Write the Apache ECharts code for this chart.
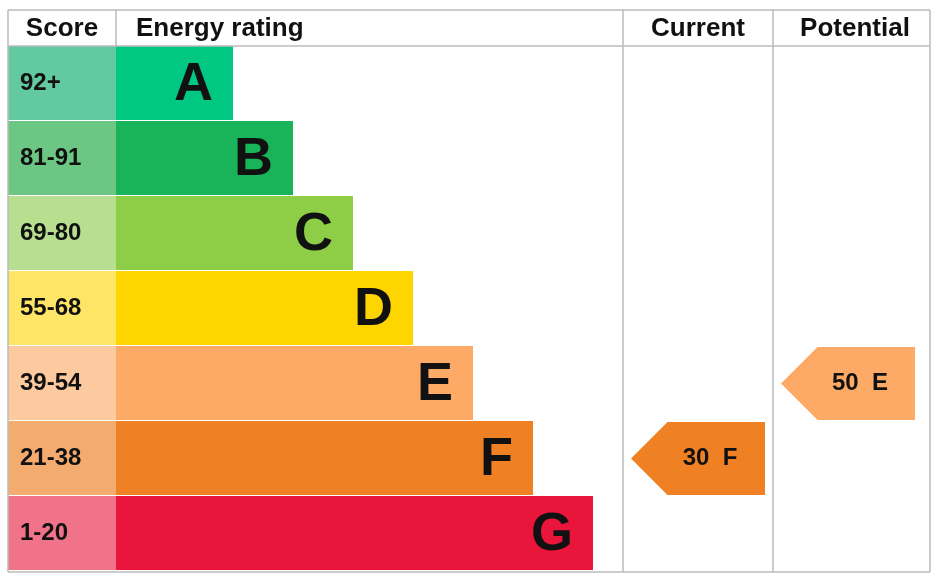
<!DOCTYPE html>
<html>
<head>
<meta charset="utf-8">
<script src="https://cdn.jsdelivr.net/npm/echarts@6/dist/echarts.min.js"></script>
<style>html,body{margin:0;background:#fff}#chart{width:940px;height:580px}</style>
</head>
<body>
<div id="chart"></div>
<script>
// EPC rating chart drawn with an ECharts custom series
const bands = ["A", "B", "C", "D", "E", "F", "G"];
const scores = ["92+", "81-91", "69-80", "55-68", "39-54", "21-38", "1-20"];
const barEnds = [225, 285, 345, 405, 465, 525, 585];
const barColors = ["#00c781", "#19b459", "#8dce46", "#ffd500", "#fcaa65", "#ef8023", "#e9153b"];
const scoreColors = ["#62c9a1", "#6dc784", "#b8df8f", "#ffe566", "#fdc99e", "#f4ab6f", "#f1738a"];
const currentRating = { value: 30, band: "F" };
const potentialRating = { value: 50, band: "E" };

const FONT = "Liberation Sans, Arial, sans-serif";
const chart = echarts.init(document.getElementById("chart"), null, { renderer: "canvas" });

function bandRow(params, api) {
    const i = api.value(0);
    const h = api.size([0, 1])[1];
    const [x0, yc] = api.coord([0, i]);
    const [xs] = api.coord([108, i]);
    const [xe] = api.coord([api.value(1), i]);
    const top = yc - h / 2, hh = h - 1;
    return {
        type: "group",
        children: [
            { type: "rect", shape: { x: x0, y: top, width: xs - x0, height: hh }, style: { fill: scoreColors[i] } },
            { type: "rect", shape: { x: xs, y: top, width: xe - xs, height: hh }, style: { fill: barColors[i] } },
            { type: "text", style: { x: x0 + 12, y: yc, text: scores[i], fill: "#111", font: `bold 24px ${FONT}`, verticalAlign: "middle" } },
            { type: "text", style: { x: xe - 20, y: yc + 2, text: bands[i], fill: "#111", font: `bold 54px ${FONT}`, align: "right", verticalAlign: "middle" } },
        ],
    };
}

function arrow(params, api) {
    const i = api.value(0);
    const h = api.size([0, 1])[1];
    const [xl, yc] = api.coord([api.value(1), i]);
    const [xr] = api.coord([api.value(2), i]);
    const top = yc - h / 2 + 1, bot = yc + h / 2 - 1;
    const neck = xl + (bot - top) / 2;
    const idx = params.dataIndex;
    const r = idx === 0 ? currentRating : potentialRating;
    return {
        type: "group",
        children: [
            { type: "polygon", shape: { points: [[xl, yc], [neck, top], [xr, top], [xr, bot], [neck, bot]] }, style: { fill: barColors[i] } },
            { type: "text", style: { x: (xl + xr) / 2 + 12, y: yc, text: r.value + "  " + r.band, fill: "#111", font: `bold 24px ${FONT}`, align: "center", verticalAlign: "middle" } },
        ],
    };
}

const line = (x1, y1, x2, y2) => ({ type: "line", shape: { x1, y1, x2, y2 }, style: { stroke: "#bbb", lineWidth: 1.5 }, z: 10 });
const head = (x, text, align) => ({ type: "text", style: { x, y: 29, text, fill: "#111", font: `bold 26px ${FONT}`, align, verticalAlign: "middle" }, z: 11 });

chart.setOption({
    animation: false,
    grid: { left: 8, right: 10, top: 46, bottom: 9 },
    xAxis: { type: "value", min: 0, max: 922, show: false },
    yAxis: { type: "category", data: bands, inverse: true, show: false },
    graphic: [
        line(8, 10, 930, 10), line(8, 46, 930, 46), line(8, 572, 930, 572),
        line(8, 10, 8, 572), line(930, 10, 930, 572),
        line(116, 10, 116, 46), line(623, 10, 623, 572), line(773, 10, 773, 572),
        head(62, "Score", "center"), head(136, "Energy rating", "left"),
        head(698, "Current", "center"), head(855, "Potential", "center"),
    ],
    series: [
        { type: "custom", renderItem: bandRow, data: barEnds.map((e, i) => [i, e]) },
        {
            type: "custom", renderItem: arrow,
            data: [
                [bands.indexOf(currentRating.band), 623, 757],
                [bands.indexOf(potentialRating.band), 773, 907],
            ],
        },
    ],
});
</script>
</body>
</html>
